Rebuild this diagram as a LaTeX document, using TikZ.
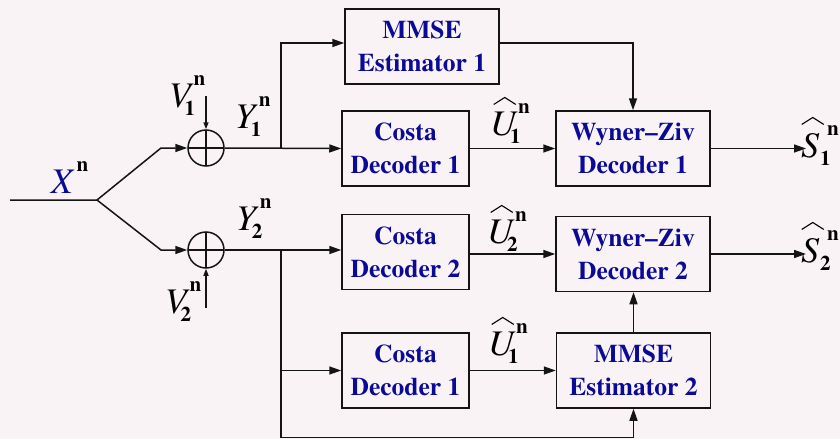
\documentclass[tikz,border=0pt]{standalone}
\usepackage{fontspec}
\IfFontExistsTF{TeX Gyre Termes}{\setmainfont{TeX Gyre Termes}}{\setmainfont{Liberation Serif}}
\usetikzlibrary{arrows.meta}
\definecolor{bg}{RGB}{250,243,246}
\definecolor{dblue}{RGB}{10,10,150}
\definecolor{ln}{RGB}{20,20,20}
\newcommand\mainf{\fontsize{36}{40}\selectfont\itshape}
\newcommand\smallf{\fontsize{21}{24}\selectfont\bfseries}
% #1 letter, #2 kern before subscript, #3 subscript, #4 kern before superscript
\newcommand\lbl[4]{{\mainf #1}\kern#2\rlap{\raisebox{-8.5pt}{\smallf #3}}\kern#4\raisebox{21.5pt}{\smallf n}}
% hat: #1 horizontal offset, #2 raise, #3 letter
\newcommand\hatof[3]{\rlap{\kern#1\raisebox{#2}{\tikz\draw[line width=1.1pt, line join=miter, line cap=butt] (0pt,0pt)--(11pt,7pt)--(22pt,0pt);}}#3}
\newcommand\hatU{\hatof{3pt}{30pt}{\mainf U}}
\newcommand\hatS{\hatof{0pt}{32pt}{\mainf S}}
\begin{document}
\begin{tikzpicture}[x=1pt,y=-1pt, line width=1.5pt, draw=ln,
  box/.style={draw=ln, minimum width=154pt, minimum height=75pt, inner sep=0pt, align=center, text=dblue, font=\fontsize{25.5}{33}\selectfont\bfseries},
  cbox/.style={box, minimum width=127pt},
  sum/.style={draw=ln, circle, minimum size=36pt, inner sep=0pt,
    path picture={\draw[line width=1.5pt] (path picture bounding box.north) -- (path picture bounding box.south) (path picture bounding box.west) -- (path picture bounding box.east);}},
  arr/.style={-{Triangle[length=12pt,width=8pt]}},
  sarr/.style={-{Triangle[length=7pt,width=5pt]}},
  lab/.style={anchor=base west, inner sep=0pt}]
\fill[bg] (0,0) rectangle (840,439);
\useasboundingbox (0,0) rectangle (840,439);

% summing junctions
\node[sum] (c1) at (206,148) {};
\node[sum] (c2) at (206,250) {};

% boxes
\node[box]  (mmse1)  at (422,46.5)  {MMSE\\Estimator 1};
\node[cbox] (costa1) at (405.5,148.5) {Costa\\Decoder 1};
\node[box]  (wz1)    at (633,148.5) {Wyner\textendash Ziv\\Decoder 1};
\node[cbox] (costa2) at (405.5,252) {Costa\\Decoder 2};
\node[box]  (wz2)    at (633,254)   {Wyner\textendash Ziv\\Decoder 2};
\node[cbox] (costa3) at (405.5,370.5) {Costa\\Decoder 1};
\node[box]  (mmse2)  at (633.5,370.5) {MMSE\\Estimator 2};

% coordinates
\coordinate (in) at (10,200);
\coordinate (fork) at (97,200);
\coordinate (b1) at (161,148);
\coordinate (b2) at (161,250);
\coordinate (v1) at (206,96);
\coordinate (v2) at (206,308);
\coordinate (j1) at (281,148);
\coordinate (j2) at (281,250);
\coordinate (j3) at (281,370.5);
\coordinate (bl) at (281,437.5);
\coordinate (s1) at (806,148.5);
\coordinate (s2) at (806,254);

% input fork
\draw[arr] (in) -- (fork) -- (b1) -- (c1.west);
\draw[arr] (fork) -- (b2) -- (c2.west);
\draw[sarr] (v1) -- (c1.north);
\draw[sarr] (v2) -- (c2.south);

% upper branch
\draw[arr] (c1.east) -- (costa1.west);
\draw[arr] (j1) |- ([yshift=3.5pt]mmse1.west);
\draw[arr] ([yshift=3.5pt]mmse1.east) -| (wz1.north);
\draw[arr] (costa1.east) -- (wz1.west);
\draw[arr] (wz1.east) -- (s1);

% lower branch
\draw[arr] (c2.east) -- (c2.east -| costa2.west);
\draw[arr] (costa2.east |- wz2.west) -- (wz2.west);
\draw[arr] (wz2.east) -- (s2);
\draw[arr] (j2) -- (bl) -| (mmse2.south);
\draw[arr] (j3) -- (costa3.west);
\draw[arr] (costa3.east) -- (mmse2.west);
\draw[arr] (mmse2.north) -- (mmse2.north |- wz2.south);

% labels
\node[lab] (lx)  at (50,193)  {\textcolor{dblue}{\mainf X}\kern4pt\raisebox{21.5pt}{\smallf n}};
\node[lab] (lv1) at (168,107) {\lbl{V}{-6pt}{1}{9pt}};
\node[lab] (ly1) at (234,128) {\lbl{Y}{-4pt}{1}{8pt}};
\node[lab] (ly2) at (235,230) {\lbl{Y}{-4pt}{2}{8pt}};
\node[lab] (lv2) at (164,313) {\lbl{V}{-6pt}{2}{9pt}};
\node[lab] (lu1) at (490,135) {\lbl{\hatU}{-6pt}{1}{8pt}};
\node[lab] (lu2) at (487,243) {\lbl{\hatU}{-6pt}{2}{8pt}};
\node[lab] (lu3) at (488,355) {\lbl{\hatU}{-6pt}{1}{8pt}};
\node[lab] (ls1) at (801,157) {\lbl{\hatS}{1pt}{1}{7pt}};
\node[lab] (ls2) at (801,262) {\lbl{\hatS}{1pt}{2}{7pt}};
\end{tikzpicture}
\end{document}
